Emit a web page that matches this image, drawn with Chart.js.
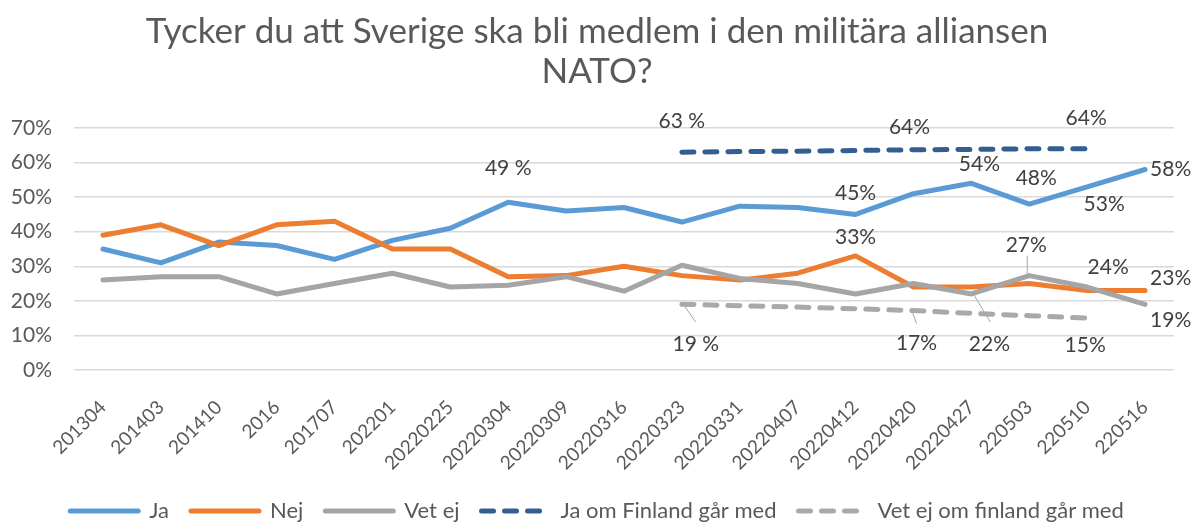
<!DOCTYPE html>
<html>
<head>
<meta charset="utf-8">
<script src="https://cdn.jsdelivr.net/npm/chart.js@4/dist/chart.umd.min.js"></script>
<style>
    html, body { margin: 0; padding: 0; background: #ffffff; }
    #wrap { width: 1194px; height: 522px; }
</style>
</head>
<body>
<div id="wrap"><canvas id="myChart"></canvas></div>
<script>
// Poll dates (x axis)
const categories = ['201304', '201403', '201410', '2016', '201707', '202201', '20220225', '20220304',
    '20220309', '20220316', '20220323', '20220331', '20220407', '20220412', '20220420', '20220427',
    '220503', '220510', '220516'];

// Series values in percent
const ja = [35, 31, 37, 36, 32, 37.5, 41, 48.5, 46, 47, 42.8, 47.4, 47, 45, 51, 54, 48, 53, 58];
const nej = [39, 42, 36, 42, 43, 35, 35, 27, 27.3, 30, 27.3, 26, 28, 33, 24, 24, 25, 23, 23];
const vetEj = [26, 27, 27, 22, 25, 28, 24, 24.5, 27, 22.8, 30.3, 26.5, 25, 22, 25, 22, 27.3, 24, 19];
const jaFinland = [null, null, null, null, null, null, null, null, null, null,
    63, 63.2, 63.3, 63.5, 63.7, 63.8, 64, 64, null];
const vetEjFinland = [null, null, null, null, null, null, null, null, null, null,
    19, 18.6, 18.2, 17.7, 17.2, 16.4, 15.7, 15, null];

// Data label texts (null = no label)
const jaLabels = [null, null, null, null, null, null, null, '49 %', null, null, null, null, null,
    '45%', null, '54%', '48%', '53%', '58%'];
const nejLabels = [null, null, null, null, null, null, null, null, null, null, null, null, null,
    '33%', null, null, null, null, '23%'];
const vetEjLabels = [null, null, null, null, null, null, null, null, null, null, null, null, null,
    null, null, '22%', '27%', '24%', '19%'];
const jaFinlandLabels = [null, null, null, null, null, null, null, null, null, null,
    '63 %', null, null, null, '64%', null, null, '64%', null];
const vetEjFinlandLabels = [null, null, null, null, null, null, null, null, null, null,
    '19 %', null, null, null, '17%', null, null, '15%', null];

const yTicks = [0, 10, 20, 30, 40, 50, 60, 70];

const FONT = 'Lato, "Noto Sans", sans-serif';

// where each label sits relative to its point
const labelPlace = {
    '0-7': { dx: 0, dy: -34 },
    '0-13': { dx: 0, dy: -21 },
    '0-15': { dx: 8, dy: -19 },
    '0-16': { dx: 7, dy: -26 },
    '0-17': { dx: 17, dy: 17 },
    '0-18': { dx: 5, dy: 0, align: 'left' },
    '1-13': { dx: 0, dy: -19 },
    '1-18': { dx: 5, dy: -12, align: 'left' },
    '2-15': { dx: 18, dy: 50, leader: [2, 0, 19, 28] },
    '2-16': { dx: -3, dy: -30, leader: [-2, -20, -2, -1] },
    '2-17': { dx: 21, dy: -20 },
    '2-18': { dx: 5, dy: 16, align: 'left' },
    '3-10': { dx: 0, dy: -31 },
    '3-14': { dx: -4, dy: -23 },
    '3-17': { dx: -1, dy: -31 },
    '4-10': { dx: 14, dy: 40, leader: [0, -2, 14, 18] },
    '4-14': { dx: 3, dy: 33, leader: [-2, -1, 3, 13] },
    '4-17': { dx: -2, dy: 27 }
};

const valueLabels = {
    id: 'valueLabels',
    afterDatasetsDraw(chart) {
        const ctx = chart.ctx;
        ctx.save();
        ctx.font = '21px ' + FONT;
        ctx.textBaseline = 'middle';
        chart.data.datasets.forEach((ds, di) => {
            const meta = chart.getDatasetMeta(di);
            ds.labels.forEach((txt, i) => {
                if (!txt) return;
                const pt = meta.data[i];
                const p = labelPlace[di + '-' + i] || { dx: 0, dy: -20 };
                if (p.leader) {
                    ctx.strokeStyle = '#a6a6a6';
                    ctx.lineWidth = 1;
                    ctx.beginPath();
                    ctx.moveTo(pt.x + p.leader[0], pt.y + p.leader[1]);
                    ctx.lineTo(pt.x + p.leader[2], pt.y + p.leader[3]);
                    ctx.stroke();
                }
                ctx.fillStyle = '#404040';
                ctx.textAlign = p.align || 'center';
                ctx.fillText(txt, pt.x + p.dx, pt.y + p.dy);
            });
        });
        ctx.restore();
    }
};

function lineSet(label, data, labels, color, order, dashed) {
    return {
        label: label,
        data: data,
        labels: labels,
        borderColor: color,
        backgroundColor: color,
        borderWidth: 5,
        borderDash: dashed ? [12, 11] : [],
        borderCapStyle: 'round',
        borderJoinStyle: 'round',
        pointRadius: 0,
        tension: 0,
        spanGaps: false,
        order: order
    };
}

// legend samples: take dash and cap from the dataset line itself
function legendItems(chart) {
    const items = Chart.defaults.plugins.legend.labels.generateLabels(chart);
    items.forEach(item => {
        const ds = chart.data.datasets[item.datasetIndex];
        item.lineDash = ds.borderDash;
        item.lineCap = 'round';
        item.lineWidth = 5;
        item.strokeStyle = ds.borderColor;
        item.fillStyle = ds.borderColor;
    });
    return items;
}

const ctx = document.getElementById('myChart').getContext('2d');
const myChart = new Chart(ctx, {
    type: 'line',
    data: {
        labels: categories,
        datasets: [
            lineSet('Ja', ja, jaLabels, '#5b9bd5', 5, false),
            lineSet('Nej', nej, nejLabels, '#ed7d31', 4, false),
            lineSet('Vet ej', vetEj, vetEjLabels, '#a5a5a5', 3, false),
            lineSet('Ja om Finland går med', jaFinland, jaFinlandLabels, '#335e92', 2, true),
            lineSet('Vet ej om finland går med', vetEjFinland, vetEjFinlandLabels, '#a9a9a9', 1, true)
        ]
    },
    options: {
        responsive: true,
        maintainAspectRatio: false,
        animation: false,
        layout: {
            padding: { left: 0, right: 0, top: 0, bottom: -10 }
        },
        plugins: {
            tooltip: { enabled: false },
            title: {
                display: true,
                text: ['Tycker du att Sverige ska bli medlem i den militära alliansen', 'NATO?'],
                color: '#595959',
                font: { family: FONT, size: 35, weight: 'normal', lineHeight: 1.143 },
                padding: { top: 12, bottom: 36 }
            },
            legend: {
                position: 'bottom',
                labels: {
                    usePointStyle: true,
                    pointStyle: 'line',
                    pointStyleWidth: 68,
                    padding: 22,
                    color: '#595959',
                    font: { family: FONT, size: 22 },
                    generateLabels: legendItems,
                    sort: (a, b) => a.datasetIndex - b.datasetIndex
                }
            }
        },
        scales: {
            x: {
                offset: true,
                grid: { display: false },
                border: { display: false },
                ticks: {
                    color: '#595959',
                    font: { family: FONT, size: 19 },
                    minRotation: 45,
                    maxRotation: 45,
                    autoSkip: false,
                    padding: 18
                },
                afterFit(scale) { scale.height = 108; }
            },
            y: {
                min: 0,
                max: 70,
                afterBuildTicks(scale) { scale.ticks = yTicks.map(v => ({ value: v })); },
                grid: { color: '#d9d9d9', lineWidth: 1.5, drawTicks: false },
                border: { display: false },
                ticks: {
                    color: '#595959',
                    font: { family: FONT, size: 21 },
                    padding: 22,
                    callback: v => v + '%'
                },
                afterFit(scale) { scale.width = 74; }
            },
            // empty right axis, only keeps a margin right of the plot
            yRight: {
                position: 'right',
                min: 0,
                max: 70,
                grid: { display: false },
                border: { display: false },
                ticks: { display: false },
                afterFit(scale) { scale.width = 20; }
            }
        }
    },
    plugins: [valueLabels]
});
</script>
</body>
</html>
